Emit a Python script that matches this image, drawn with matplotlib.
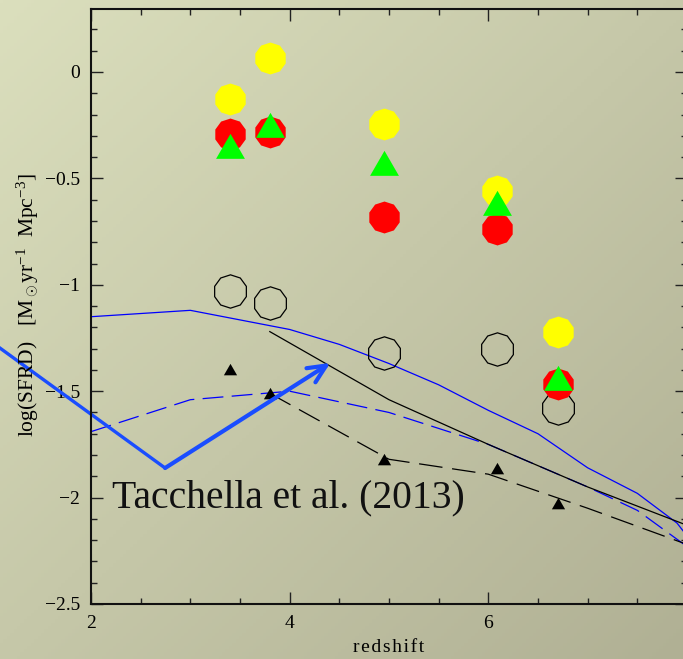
import numpy as np
import matplotlib
matplotlib.use("Agg")
import matplotlib.pyplot as plt
from matplotlib.ticker import MultipleLocator

plt.rcParams['font.family'] = ['Liberation Serif', 'DejaVu Serif']
plt.rcParams['mathtext.fontset'] = 'custom'
plt.rcParams['mathtext.rm'] = 'Liberation Serif'
plt.rcParams['mathtext.it'] = 'Liberation Serif:italic'
plt.rcParams['lines.scale_dashes'] = False

# points (redshift, log SFRD)
z_pts = [3.40, 3.80, 4.95, 6.09, 6.70]
yellow = [-0.127, 0.066, -0.244, -0.559, -1.22]
red = [-0.29, -0.28, -0.68, -0.74, -1.466]
green = [-0.365, -0.266, -0.445, -0.633, -1.455]
open_c = [-1.03, -1.085, -1.32, -1.30, -1.58]
black_tri = [-1.403, -1.52, -1.83, -1.868, -2.037]

# model curves
z_blue = [2.0, 3.0, 4.0, 4.5, 5.0, 5.5, 6.0, 6.5, 7.0, 7.5, 7.9, 8.0]
blue_solid = [-1.15, -1.12, -1.21, -1.28, -1.37, -1.47, -1.59, -1.70, -1.86, -1.98, -2.12, -2.18]
z_bdash = [2.0, 3.0, 4.0, 5.0, 6.0, 7.0, 7.5, 8.0]
blue_dash = [-1.69, -1.54, -1.50, -1.60, -1.75, -1.95, -2.06, -2.23]
z_black = [3.8, 5.0, 6.0, 7.0, 8.0]
black_solid = [-1.22, -1.54, -1.75, -1.95, -2.13]
black_dash = [-1.51, -1.82, -1.89, -2.05, -2.22]

# hand-drawn arrow path
arrow_x = [1.0, 2.746, 4.41]
arrow_y = [-1.269, -1.861, -1.367]

W, H = 683, 659
fig = plt.figure(figsize=(W / 100, H / 100), dpi=100)

# gradient background
bg = fig.add_axes([0, 0, 1, 1])
bg.set_axis_off()
tl = np.array([219, 223, 189]) / 255.0
br = np.array([176, 176, 148]) / 255.0
gx, gy = np.meshgrid(np.linspace(0, 1, 200), np.linspace(0, 1, 200))
t = (gx + gy) / 2
img = tl[None, None, :] + (br - tl)[None, None, :] * t[:, :, None]
bg.imshow(img, aspect='auto', extent=[0, 1, 0, 1], origin='upper')
bg.set_xlim(0, 1)
bg.set_ylim(0, 1)

ax = fig.add_axes([91 / W, 55 / H, 596 / W, 595 / H])
ax.patch.set_alpha(0)

deca = (10, 0, 0)
tri = [(0, 1), (-0.866, -0.5), (0.866, -0.5)]

ax.plot(z_blue, blue_solid, color='#0000ff', lw=0.9)
ax.plot(z_bdash, blue_dash, color='#0000ff', lw=0.9, dashes=(15, 6))
ax.plot(z_black, black_solid, color='black', lw=0.9)
ax.plot(z_black, black_dash, color='black', lw=0.9, dashes=(17, 7))

ax.plot(z_pts, open_c, ls='none', marker=deca, ms=24, mfc='none', mec='black', mew=0.9)
ax.plot(z_pts, yellow, ls='none', marker=deca, ms=23, mfc='#ffff00', mec='none')
ax.plot(z_pts, red, ls='none', marker=deca, ms=23, mfc='#ff0000', mec='none')
ax.plot(z_pts, green, ls='none', marker=tri, ms=24, mfc='#00ff00', mec='none')
ax.plot(z_pts, black_tri, ls='none', marker=tri, ms=11, mfc='black', mec='none')

arrow_col = '#1a4dff'
ax.plot(arrow_x[:2], arrow_y[:2], color=arrow_col, lw=2.4, clip_on=False,
        solid_capstyle='round')
ax.annotate('', xy=(arrow_x[2], arrow_y[2]), xytext=(arrow_x[1], arrow_y[1]),
            arrowprops=dict(arrowstyle='->,head_length=1.3,head_width=0.6',
                            color=arrow_col, lw=3.0, shrinkA=0, shrinkB=0),
            annotation_clip=False)

ax.text(2.21, -2.0, 'Tacchella et al. (2013)', fontsize=28.5, va='center', ha='left',
        color='#111111')

ax.set_xlim(2, 8)
ax.set_ylim(-2.5, 0.296)
ax.xaxis.set_major_locator(MultipleLocator(2))
ax.xaxis.set_minor_locator(MultipleLocator(0.5))
ax.yaxis.set_major_locator(MultipleLocator(0.5))
ax.yaxis.set_minor_locator(MultipleLocator(0.1))
ax.set_xticks([2, 4, 6])
ax.set_xticklabels(['2', '4', '6'])
ax.set_yticks([-2.5, -2, -1.5, -1, -0.5, 0])
ax.set_yticklabels(['\u22122.5', '\u22122', '\u22121.5', '\u22121', '\u22120.5', '0'])
ax.tick_params(which='both', direction='in', top=True, right=True, labelsize=14,
               color='#222222')
ax.tick_params(which='major', length=12 * 0.72, width=1, pad=8)
ax.tick_params(which='minor', length=6 * 0.72, width=1)
for s in ax.spines.values():
    s.set_linewidth(1.5)
    s.set_color('#111111')

fig.text(28 / W, 1 - 305 / H, r'log(SFRD)   [M$_\odot$yr$^{-1}$  Mpc$^{-3}$]',
         rotation=90, ha='center', va='center', fontsize=15.5)
fig.text(389 / W, 1 - 647 / H, '\u200a'.join('redshift'),
         ha='center', va='center', fontsize=14)

fig.savefig('out.png', dpi=100)
